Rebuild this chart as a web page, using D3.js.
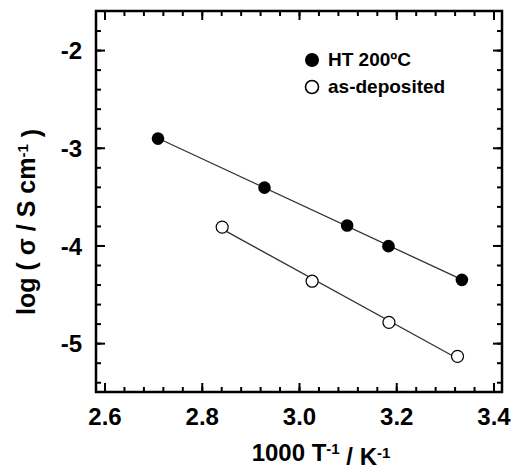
<!DOCTYPE html>
<html>
<head>
<meta charset="utf-8">
<script src="https://cdn.jsdelivr.net/npm/d3@7"></script>
<style>
  body { margin: 0; background: #fff; }
  svg { display: block; }
  text { font-family: "Liberation Sans", Arial, sans-serif; font-weight: bold; fill: #000; }
</style>
</head>
<body>
<svg id="chart" width="511" height="472"></svg>
<script>
// HT 200 C (filled)
const htX = [2.710, 2.929, 3.099, 3.184, 3.335];
const htY = [-2.906, -3.408, -3.795, -4.007, -4.352];
// as-deposited (open)
const asX = [2.842, 3.027, 3.185, 3.326];
const asY = [-3.812, -4.366, -4.787, -5.135];

const xTicks = [2.6, 2.8, 3.0, 3.2, 3.4];
const yTicks = [-2, -3, -4, -5];

const svg = d3.select('#chart');
const mLeft = 96, mRight = 502, mTop = 11, mBottom = 392;

const x = d3.scaleLinear().domain([2.5825, 3.4175]).range([mLeft, mRight]);
const y = d3.scaleLinear().domain([-1.6, -5.5]).range([mTop, mBottom]);

const xMinor = d3.range(2.6, 3.4001, 0.04);
const yMinor = d3.range(-5.4, -1.7, 0.2);

// minor ticks, all four sides, pointing inward
svg.append('g').attr('transform', `translate(0,${mBottom})`)
    .call(d3.axisBottom(x).tickValues(xMinor).tickSize(-5).tickFormat(''));
svg.append('g').attr('transform', `translate(0,${mTop})`)
    .call(d3.axisTop(x).tickValues(xMinor).tickSize(-5).tickFormat(''));
svg.append('g').attr('transform', `translate(${mLeft},0)`)
    .call(d3.axisLeft(y).tickValues(yMinor).tickSize(-5).tickFormat(''));
svg.append('g').attr('transform', `translate(${mRight},0)`)
    .call(d3.axisRight(y).tickValues(yMinor).tickSize(-5).tickFormat(''));

// major ticks
svg.append('g').attr('class', 'xaxis').attr('transform', `translate(0,${mBottom})`)
    .call(d3.axisBottom(x).tickValues(xTicks).tickSize(-9).tickPadding(16).tickFormat(d => d.toFixed(1)));
svg.append('g').attr('transform', `translate(0,${mTop})`)
    .call(d3.axisTop(x).tickValues(xTicks).tickSize(-9).tickFormat(''));
svg.append('g').attr('class', 'yaxis').attr('transform', `translate(${mLeft},0)`)
    .call(d3.axisLeft(y).tickValues(yTicks).tickSize(-9).tickPadding(14).tickFormat(d => String(d)));
svg.append('g').attr('transform', `translate(${mRight},0)`)
    .call(d3.axisRight(y).tickValues(yTicks).tickSize(-9).tickFormat(''));

svg.selectAll('.domain').remove();
svg.selectAll('.tick line').attr('stroke', '#000').attr('stroke-width', 2);
svg.selectAll('.tick text')
    .style('font-family', '"Liberation Sans", Arial, sans-serif')
    .style('font-weight', 'bold')
    .style('font-size', '24px')
    .attr('fill', '#000');
svg.selectAll('.yaxis .tick text').attr('dy', '0.36em');

// frame
svg.append('rect')
    .attr('x', mLeft).attr('y', mTop)
    .attr('width', mRight - mLeft).attr('height', mBottom - mTop)
    .attr('fill', 'none').attr('stroke', '#000').attr('stroke-width', 2.5);

// least-squares fit lines
function fit(xs, ys) {
    const mx = d3.mean(xs), my = d3.mean(ys);
    const b = d3.sum(xs, (v, i) => (v - mx) * (ys[i] - my)) / d3.sum(xs, v => (v - mx) * (v - mx));
    const a = my - b * mx;
    const ext = d3.extent(xs);
    return ext.map(v => [v, a + b * v]);
}
const line = d3.line().x(d => x(d[0])).y(d => y(d[1]));

[[htX, htY], [asX, asY]].forEach(([xs, ys]) => {
    svg.append('path')
        .attr('d', line(fit(xs, ys)))
        .attr('fill', 'none')
        .attr('stroke', '#333')
        .attr('stroke-width', 1.3);
});

svg.selectAll('circle.ht')
    .data(htX)
    .enter()
    .append('circle')
    .attr('class', 'ht')
    .attr('cx', d => x(d))
    .attr('cy', (d, i) => y(htY[i]))
    .attr('r', 6.3)
    .attr('fill', '#000');

svg.selectAll('circle.as')
    .data(asX)
    .enter()
    .append('circle')
    .attr('class', 'as')
    .attr('cx', d => x(d))
    .attr('cy', (d, i) => y(asY[i]))
    .attr('r', 6)
    .attr('fill', '#fff')
    .attr('stroke', '#000')
    .attr('stroke-width', 1.2);

// legend
const legend = svg.append('g');
legend.append('circle').attr('cx', 312).attr('cy', 60).attr('r', 7).attr('fill', '#000');
legend.append('circle').attr('cx', 312).attr('cy', 87).attr('r', 6.5)
    .attr('fill', '#fff').attr('stroke', '#000').attr('stroke-width', 1.6);
legend.append('text').attr('x', 328).attr('y', 66).style('font-size', '19px').text('HT 200ºC');
legend.append('text').attr('x', 328).attr('y', 93).style('font-size', '19px').text('as-deposited');

// axis titles
const xt = svg.append('text')
    .attr('x', 321).attr('y', 461)
    .attr('text-anchor', 'middle')
    .style('font-size', '24px');
xt.append('tspan').text('1000 T');
xt.append('tspan').attr('dy', '-0.45em').style('font-size', '15px').text('-1');
xt.append('tspan').attr('dy', '0.45em').text(' / K');
xt.append('tspan').attr('dy', '-0.45em').style('font-size', '15px').text('-1');

const yt = svg.append('text')
    .attr('transform', 'translate(35,222) rotate(-90)')
    .attr('text-anchor', 'middle')
    .style('font-size', '25px');
yt.append('tspan').text('log ( σ / S cm');
yt.append('tspan').attr('dy', '-0.45em').style('font-size', '15px').text('-1');
yt.append('tspan').attr('dy', '0.45em').text(' )');
</script>
</body>
</html>
